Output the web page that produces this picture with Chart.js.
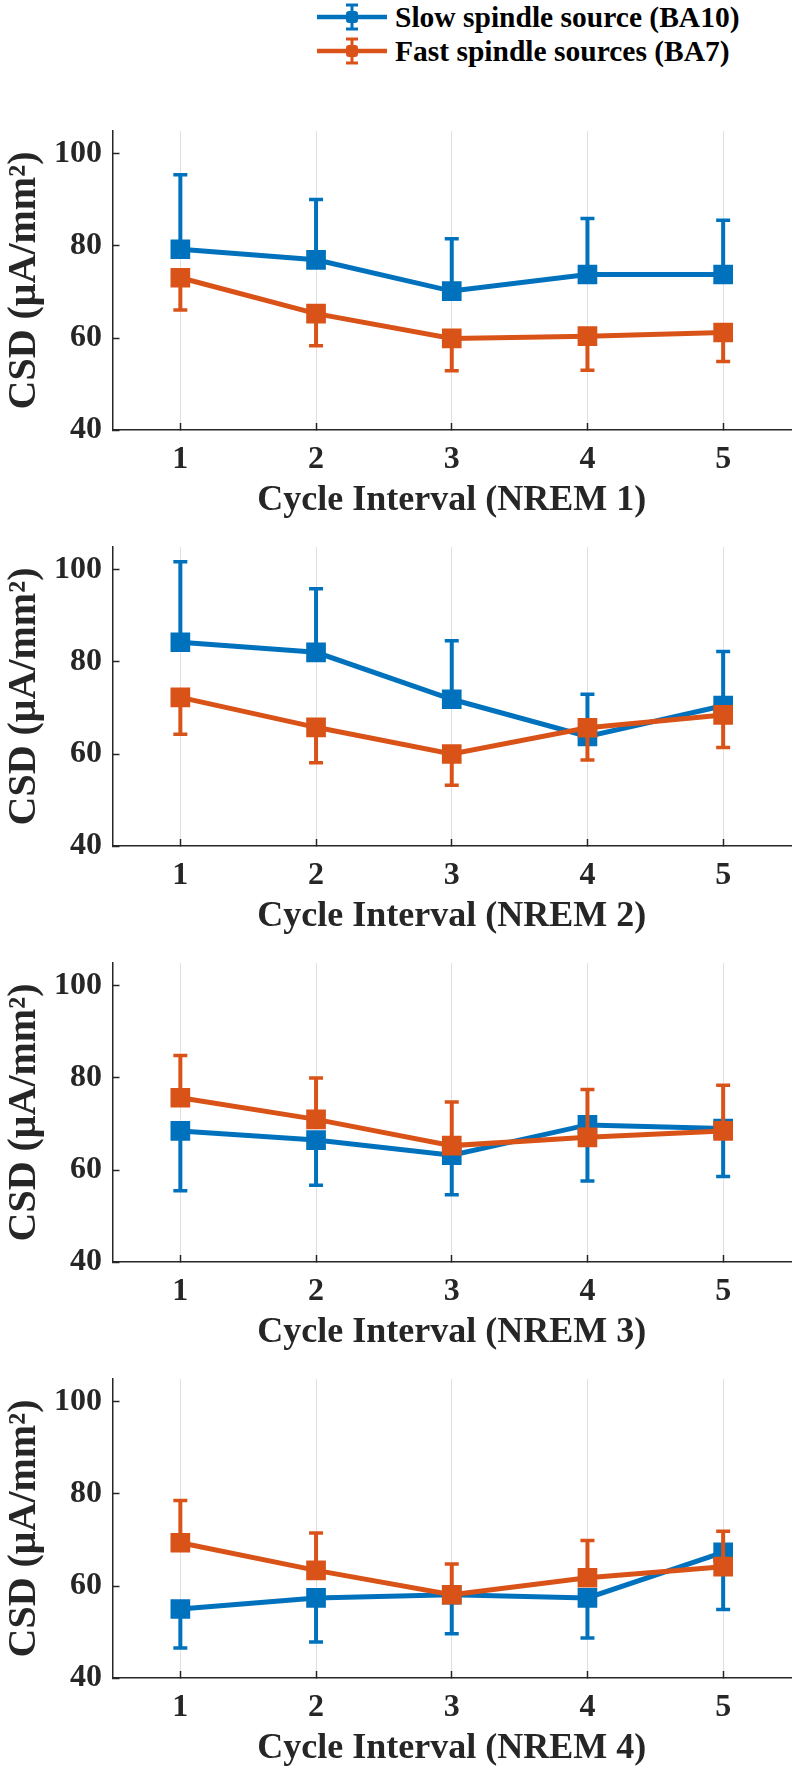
<!DOCTYPE html>
<html>
<head>
<meta charset="utf-8">
<script src="https://cdn.jsdelivr.net/npm/chart.js@4.4.0/dist/chart.umd.min.js"></script>
<style>
  body { margin: 0; width: 793px; height: 1769px; overflow: hidden; background: #fff; position: relative; }
  canvas { position: absolute; left: 0; }
  #legend { position: absolute; left: 317px; top: 0; font: bold 29.5px 'Liberation Serif', 'Times New Roman', serif; color: #000; }
  .row { display: flex; align-items: center; height: 34px; white-space: nowrap; }
  .row svg { margin-right: 6px; flex: none; }
</style>
</head>
<body>
<div id="legend">
  <div class="row">
    <svg width="72" height="30">
      <line x1="0" y1="15" x2="70" y2="15" stroke="#0072BD" stroke-width="4.5"/>
      <line x1="35" y1="3" x2="35" y2="27" stroke="#0072BD" stroke-width="3"/>
      <line x1="29" y1="3" x2="41" y2="3" stroke="#0072BD" stroke-width="3"/>
      <line x1="29" y1="27" x2="41" y2="27" stroke="#0072BD" stroke-width="3"/>
      <rect x="29" y="9" width="12" height="12" rx="3" fill="#0072BD"/>
    </svg>
    <span id="leg0"></span>
  </div>
  <div class="row">
    <svg width="72" height="30">
      <line x1="0" y1="15" x2="70" y2="15" stroke="#D95319" stroke-width="4.5"/>
      <line x1="35" y1="3" x2="35" y2="27" stroke="#D95319" stroke-width="3"/>
      <line x1="29" y1="3" x2="41" y2="3" stroke="#D95319" stroke-width="3"/>
      <line x1="29" y1="27" x2="41" y2="27" stroke="#D95319" stroke-width="3"/>
      <rect x="29" y="9" width="12" height="12" rx="3" fill="#D95319"/>
    </svg>
    <span id="leg1"></span>
  </div>
</div>

<canvas id="p0" width="793" height="409" style="top:121px"></canvas>
<canvas id="p1" width="793" height="409" style="top:537px"></canvas>
<canvas id="p2" width="793" height="409" style="top:953px"></canvas>
<canvas id="p3" width="793" height="409" style="top:1369px"></canvas>

<script>
// axis set-up
const cycles = [1, 2, 3, 4, 5];
const xTicks = [1, 2, 3, 4, 5];
const yTicks = [40, 60, 80, 100];
const xRange = [0.5, 5.5];
const yRange = [40, 105];
const seriesNames = ['Slow spindle source (BA10)', 'Fast spindle sources (BA7)'];
const xTitles = ['Cycle Interval (NREM 1)', 'Cycle Interval (NREM 2)', 'Cycle Interval (NREM 3)', 'Cycle Interval (NREM 4)'];
const yTitle = 'CSD (μA/mm²)';

// slow spindle source (BA10): mean and one-sided error per cycle
const slowMean1 = [79.3, 77.0, 70.2, 73.8, 73.8];
const slowErr1  = [16.2, 13.1, 11.4, 12.2, 11.8];
const slowMean2 = [84.3, 82.1, 71.9, 63.8, 70.5];
const slowErr2  = [17.5, 13.8, 12.7, 9.2, 11.8];
const slowMean3 = [68.5, 66.5, 63.2, 69.8, 69.0];
const slowErr3  = [13.0, 9.8, 8.6, 12.2, 10.4];
const slowMean4 = [55.0, 57.4, 58.1, 57.4, 67.3];
const slowErr4  = [8.5, 9.6, 8.5, 8.7, 12.4];

// fast spindle sources (BA7)
const fastMean1 = [73.1, 65.3, 59.9, 60.4, 61.2];
const fastErr1  = [7.0, 7.0, 7.0, 7.4, 6.3];
const fastMean2 = [72.3, 65.8, 60.0, 65.7, 68.5];
const fastErr2  = [8.0, 7.7, 6.8, 7.0, 7.1];
const fastMean3 = [75.7, 71.0, 65.3, 67.1, 68.5];
const fastErr3  = [9.2, 9.0, 9.5, 10.4, 9.9];
const fastMean4 = [69.4, 63.4, 58.1, 61.8, 64.2];
const fastErr4  = [9.2, 8.1, 6.7, 8.1, 7.7];

// which way the error bar points (+1 up, -1 down), per panel
const slowDir = [1, 1, -1, -1];
const fastDir = [-1, -1, 1, 1];

const BLUE = '#0072BD';
const ORANGE = '#D95319';
const INK = '#262626';
const FONT = "'Liberation Serif', 'Times New Roman', serif";

document.getElementById('leg0').textContent = seriesNames[0];
document.getElementById('leg1').textContent = seriesNames[1];

function lineSet(label, means, color, order) {
  return {
    label: label,
    data: cycles.map((c, i) => ({ x: c, y: means[i] })),
    borderColor: color,
    backgroundColor: color,
    borderWidth: 5,
    pointStyle: 'rect',
    pointRadius: 12.5,
    pointBorderWidth: 2,
    pointBackgroundColor: color,
    pointBorderColor: color,
    tension: 0,
    order: order
  };
}

// error bars: stem from mean to the end, cap drawn as a 'line' point at the end
function errSet(means, errs, dir, color, order) {
  const pts = [];
  cycles.forEach((c, i) => {
    pts.push({ x: c, y: means[i] });
    pts.push({ x: c, y: means[i] + dir * errs[i] });
    pts.push({ x: c, y: null });
  });
  return {
    label: 'err',
    data: pts,
    borderColor: color,
    borderWidth: 4,
    pointStyle: 'line',
    pointRadius: pts.map((p, i) => (i % 3 === 1 ? 7 : 0)),
    pointBorderWidth: 3.5,
    pointBorderColor: color,
    spanGaps: false,
    tension: 0,
    order: order
  };
}

const slowMeans = [slowMean1, slowMean2, slowMean3, slowMean4];
const slowErrs = [slowErr1, slowErr2, slowErr3, slowErr4];
const fastMeans = [fastMean1, fastMean2, fastMean3, fastMean4];
const fastErrs = [fastErr1, fastErr2, fastErr3, fastErr4];

for (let k = 0; k < 4; k++) {
  new Chart(document.getElementById('p' + k), {
    type: 'line',
    data: {
      datasets: [
        lineSet(seriesNames[1], fastMeans[k], ORANGE, 0),
        errSet(fastMeans[k], fastErrs[k], fastDir[k], ORANGE, 1),
        lineSet(seriesNames[0], slowMeans[k], BLUE, 2),
        errSet(slowMeans[k], slowErrs[k], slowDir[k], BLUE, 3)
      ]
    },
    options: {
      responsive: false,
      animation: false,
      devicePixelRatio: 1,
      layout: { autoPadding: false, padding: { top: 10, right: 2, left: 0, bottom: 0 } },
      plugins: { legend: { display: false }, tooltip: { enabled: false } },
      scales: {
        x: {
          type: 'linear',
          min: xRange[0],
          max: xRange[1],
          afterBuildTicks: s => { s.ticks = xTicks.map(v => ({ value: v })); },
          afterFit: s => { s.height = 100; s.paddingLeft = 0; s.paddingRight = 0; },
          grid: {
            display: true,
            drawOnChartArea: true,
            drawTicks: true,
            tickLength: -7,
            color: '#e0e0e0',
            lineWidth: 1,
            tickColor: INK,
            tickWidth: 1.5
          },
          border: { display: true, color: INK, width: 1.5 },
          ticks: {
            color: INK,
            padding: 18,
            maxRotation: 0,
            font: { family: FONT, size: 32, weight: 'bold' }
          },
          title: {
            display: true,
            text: xTitles[k],
            color: INK,
            padding: { top: 0, bottom: 8 },
            font: { family: FONT, size: 36, weight: 'bold' }
          }
        },
        y: {
          type: 'linear',
          min: yRange[0],
          max: yRange[1],
          afterBuildTicks: s => { s.ticks = yTicks.map(v => ({ value: v })); },
          afterFit: s => { s.width = 112.5; s.paddingTop = 0; s.paddingBottom = 0; },
          grid: {
            display: true,
            drawOnChartArea: false,
            drawTicks: true,
            tickLength: -7,
            tickColor: INK,
            tickWidth: 1.5
          },
          border: { display: true, color: INK, width: 1.5 },
          ticks: {
            color: INK,
            padding: 17.5,
            font: { family: FONT, size: 32, weight: 'bold' }
          },
          title: {
            display: true,
            text: yTitle,
            color: INK,
            padding: { top: 1, bottom: 0 },
            font: { family: FONT, size: 40, weight: 'bold' }
          }
        }
      }
    }
  });
}
</script>
</body>
</html>
